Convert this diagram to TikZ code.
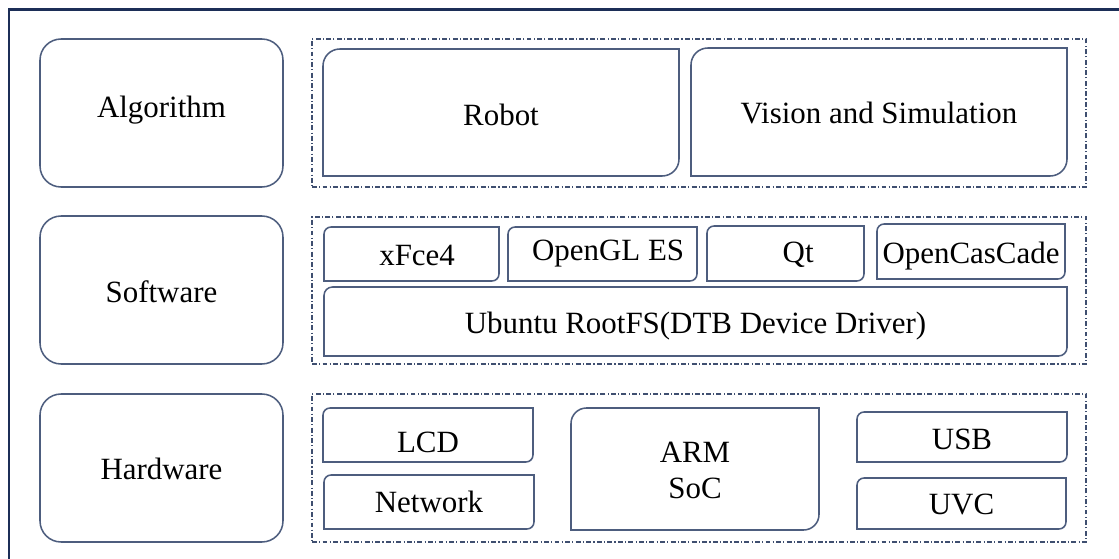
\documentclass[tikz,border=0pt]{standalone}
\usepackage{fontspec}
\setmainfont{Liberation Serif}
\usetikzlibrary{fit}
\definecolor{edgeblue}{HTML}{4D5D7E}
\definecolor{framenavy}{HTML}{1C2E57}
\definecolor{groupdash}{HTML}{3F4F70}

\tikzset{
  layer/.style={draw=edgeblue, line width=1.1pt, rounded corners=15pt, inner sep=0pt, outer sep=0pt},
  group/.style={draw=groupdash, line width=0.8pt, dash pattern=on 3.5pt off 1.6pt on 0.8pt off 1.6pt, inner sep=0pt, outer sep=0pt},
  part/.style={inner sep=0pt, outer sep=0pt},
  partline/.style={draw=edgeblue, line width=1.1pt},
}
% outline with top-left and bottom-right corners rounded
\newcommand{\diagframe}[2]{%
  \draw[partline] (#1.south west) -- ([yshift=-#2]#1.north west)
    arc[start angle=180, end angle=90, radius=#2] -- (#1.north east)
    -- ([yshift=#2]#1.south east)
    arc[start angle=0, end angle=-90, radius=#2] -- cycle;}

\begin{document}
\begin{tikzpicture}[x=0.025cm, y=-0.025cm, font=\fontsize{22}{26}\selectfont]
  \useasboundingbox (0,0) rectangle (1119,559);

  % frame
  \draw[framenavy, line width=2pt] (9,559) -- (9,9.5) -- (1119,9.5);

  % layers
  \node[layer, fit={(40,39) (283,187)}, label={[yshift=2pt]center:Algorithm}] (algo) {};
  \node[layer, fit={(40,216) (283,364)}, label={[yshift=-1pt]center:Software}] (soft) {};
  \node[layer, fit={(40,394) (283,542)}, label={[yshift=-1pt]center:Hardware}] (hard) {};

  \node[group, fit={(312,39) (1086,187)}] (algogrp) {};
  \node[group, fit={(312,217) (1086,364)}] (softgrp) {};
  \node[group, fit={(312,394) (1086,542)}] (hardgrp) {};

  % Algorithm
  \node[part, fit={(323,49) (679,176)}, label={[yshift=-2pt]center:Robot}] (robot) {};
  \node[part, fit={(691,48) (1067,176)}, label={[yshift=-1pt]center:Vision and Simulation}] (vision) {};
  \diagframe{robot}{12pt}
  \diagframe{vision}{12pt}

  % Software
  \node[part, fit={(324,227) (499,281)}, label={[xshift=4pt,yshift=-1pt]center:xFce4}] (xfce) {};
  \node[part, fit={(508,227) (697,281)}, label={[xshift=4pt]center:OpenGL ES}] (opengl) {};
  \node[part, fit={(707,226) (864,281)}, label={[xshift=9pt,yshift=-1pt]center:Qt}] (qt) {};
  \node[part, fit={(877,224) (1065,279)}, label={[yshift=-3pt]center:OpenCasCade}] (occ) {};
  \node[part, fit={(324,287) (1067,356)}, label={[yshift=-3pt]center:Ubuntu RootFS(DTB Device Driver)}] (ubuntu) {};
  \foreach \n in {xfce,opengl,qt,occ} {
    \diagframe{\n}{5pt}
  }
  \diagframe{ubuntu}{6pt}

  % Hardware
  \node[part, fit={(323,408) (533,462)}, label={[yshift=-5pt]center:LCD}] (lcd) {};
  \node[part, fit={(324,475) (534,529)}, label=center:Network] (net) {};
  \node[part, fit={(571,408) (819,530)}, label={[align=center,yshift=-1pt]center:ARM\\SoC}] (arm) {};
  \node[part, fit={(857,412) (1067,462)}, label={[yshift=-2pt]center:USB}] (usb) {};
  \node[part, fit={(857,478) (1066,529)}, label={[yshift=-1pt]center:UVC}] (uvc) {};
  \foreach \n in {lcd,net,usb,uvc} {
    \diagframe{\n}{5pt}
  }
  \diagframe{arm}{11pt}
\end{tikzpicture}
\end{document}
